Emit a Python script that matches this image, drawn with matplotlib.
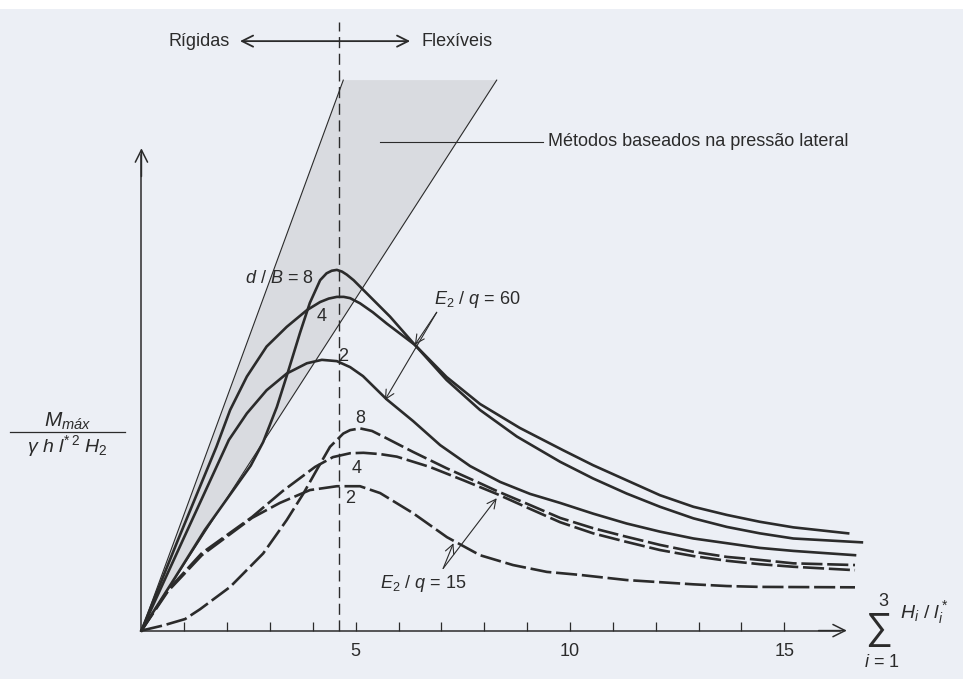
import matplotlib.pyplot as plt
from matplotlib.patches import Rectangle

plt.rcParams['font.family'] = ['Liberation Sans', 'DejaVu Sans']
plt.rcParams['mathtext.fontset'] = 'custom'
plt.rcParams['mathtext.rm'] = 'Liberation Sans'
plt.rcParams['mathtext.it'] = 'Liberation Sans:italic'
plt.rcParams['mathtext.bf'] = 'Liberation Sans:bold'

INK = '#2b2b2b'
BG = '#eceff5'

# E2/q = 60 (solid lines), d/B = 8, 4, 2
solid8_x = [0, 0.78, 1.48, 2.18, 2.55, 2.84, 3.16, 3.42, 3.70, 3.93, 4.17, 4.32, 4.44, 4.56,
            4.68, 4.79, 4.95, 5.10, 5.80, 6.38, 7.12, 7.90, 8.76, 9.77, 10.54, 11.32,
            12.10, 12.88, 13.66, 14.43, 15.21, 16.81]
solid8_y = [0, 1.23, 2.35, 3.33, 3.85, 4.40, 5.22, 6.04, 6.95, 7.65, 8.18, 8.34, 8.40, 8.42,
            8.38, 8.31, 8.18, 8.03, 7.33, 6.67, 5.85, 5.15, 4.53, 3.94, 3.55, 3.20,
            2.89, 2.62, 2.42, 2.27, 2.15, 2.06]

solid4_x = [0, 0.85, 1.75, 2.07, 2.46, 2.92, 3.39, 3.86, 4.17, 4.37, 4.56, 4.72, 4.87,
            5.10, 5.40, 5.72, 6.38, 7.12, 7.90, 8.83, 9.84, 10.54, 11.32, 12.10, 12.88,
            13.66, 14.43, 15.21, 16.49]
solid4_y = [0, 2.11, 4.29, 5.15, 5.93, 6.63, 7.09, 7.48, 7.67, 7.75, 7.79, 7.79, 7.76,
            7.64, 7.43, 7.17, 6.67, 5.92, 5.29, 4.73, 4.21, 3.86, 3.51, 3.16, 2.89,
            2.70, 2.54, 2.41, 2.27]

solid2_x = [0, 1.02, 2.04, 2.46, 2.92, 3.39, 3.86, 4.21, 4.56, 4.87, 5.17, 5.72, 6.34,
            6.97, 7.67, 8.37, 9.07, 9.77, 10.54, 11.32, 12.10, 12.88, 13.66, 14.43, 15.21,
            16.65]
solid2_y = [0, 2.23, 4.45, 5.07, 5.61, 6.00, 6.24, 6.32, 6.29, 6.15, 5.94, 5.40, 4.89,
            4.33, 3.84, 3.47, 3.19, 2.98, 2.73, 2.50, 2.31, 2.15, 2.04, 1.93, 1.86,
            1.76]

# E2/q = 15 (dashed lines), d/B = 8, 4, 2
dash8_x = [0, 0.51, 1.02, 1.37, 2.07, 2.84, 3.39, 3.78, 4.09, 4.40, 4.71, 4.87, 5.10, 5.38,
           5.64, 6.34, 7.12, 7.90, 8.29, 9.07, 9.77, 10.54, 11.32, 12.10, 12.88, 13.66,
           14.43, 15.21, 16.65]
dash8_y = [0, 0.12, 0.27, 0.50, 1.02, 1.80, 2.58, 3.20, 3.75, 4.29, 4.60, 4.68, 4.72, 4.66,
           4.53, 4.17, 3.79, 3.44, 3.26, 2.93, 2.63, 2.39, 2.19, 2.00, 1.84, 1.72,
           1.65, 1.57, 1.53]

dash4_x = [0, 0.62, 1.41, 2.58, 3.30, 4.05, 4.47, 4.87, 5.18, 5.57, 5.96, 6.73, 7.51,
           8.29, 9.07, 9.77, 10.54, 11.32, 12.10, 12.88, 13.66, 14.43, 15.21, 16.65]
dash4_y = [0, 0.95, 1.81, 2.65, 3.26, 3.82, 4.05, 4.14, 4.15, 4.12, 4.06, 3.82, 3.51,
           3.19, 2.84, 2.53, 2.27, 2.07, 1.88, 1.74, 1.63, 1.55, 1.49, 1.41]

dash2_x = [0, 0.62, 1.41, 2.58, 3.23, 3.93, 4.56, 5.10, 5.57, 6.34, 7.13, 7.90, 8.67,
           9.46, 10.23, 11.32, 12.10, 12.88, 13.66, 14.43, 16.65]
dash2_y = [0, 0.92, 1.76, 2.63, 2.98, 3.28, 3.37, 3.37, 3.21, 2.74, 2.18, 1.76, 1.53,
           1.37, 1.30, 1.18, 1.13, 1.08, 1.04, 1.02, 1.01]

# lateral-pressure methods wedge (two thin lines from the origin)
wedge_top = 12.85
wedge_left_x = 4.71
wedge_right_x = 8.29
boundary_x = 4.6        # rigid / flexible limit

xticks = list(range(1, 16))
xlabels = [str(t) if t % 5 == 0 else '' for t in xticks]

fig = plt.figure(figsize=(9.63, 6.79), dpi=100, facecolor=BG)
fig.patches.append(Rectangle((0, 0.987), 1, 0.013, transform=fig.transFigure,
                             facecolor='white', edgecolor='none'))
ax = fig.add_axes([0, 0, 1, 1])
ax.set_facecolor('none')
ax.set_xlim(-3.30, 19.17)
ax.set_ylim(-1.13, 14.72)

# wedge
ax.fill([0, wedge_left_x, wedge_right_x], [0, wedge_top, wedge_top],
        color='#d9dbe0', lw=0, zorder=1)
ax.plot([0, wedge_left_x], [0, wedge_top], color=INK, lw=0.8, zorder=2)
ax.plot([0, wedge_right_x], [0, wedge_top], color=INK, lw=0.8, zorder=2)

# rigid/flexible boundary
ax.plot([boundary_x, boundary_x], [0, 14.2], color=INK, lw=1.0,
        dashes=(8, 4), zorder=2)

# curves
for xs, ys in [(solid8_x, solid8_y), (solid4_x, solid4_y), (solid2_x, solid2_y)]:
    ax.plot(xs, ys, color=INK, lw=1.9, solid_joinstyle='round', zorder=3)
for xs, ys in [(dash8_x, dash8_y), (dash4_x, dash4_y), (dash2_x, dash2_y)]:
    ax.plot(xs, ys, color=INK, lw=1.9, dashes=(8, 1.8), zorder=3)

# axes
for s in ['top', 'right']:
    ax.spines[s].set_visible(False)
ax.spines['bottom'].set_position(('data', 0))
ax.spines['left'].set_position(('data', 0))
ax.spines['bottom'].set_bounds(0, 16.3)
ax.spines['left'].set_bounds(0, 11.1)
for s in ['bottom', 'left']:
    ax.spines[s].set_linewidth(1.1)
    ax.spines[s].set_color(INK)
ax.set_yticks([])
ax.set_xticks(xticks)
ax.set_xticklabels(xlabels, fontsize=13, color=INK)
ax.tick_params(axis='x', direction='in', length=6.5, width=0.9, color=INK, pad=9)
arrow_kw = dict(arrowstyle='->', lw=1.1, color=INK, mutation_scale=22,
                shrinkA=0, shrinkB=0)
ax.annotate('', xy=(16.46, 0), xytext=(15.8, 0), arrowprops=arrow_kw)
ax.annotate('', xy=(0, 11.26), xytext=(0, 10.6), arrowprops=arrow_kw)

# y label (fraction)
ax.text(-1.72, 4.88, r'$M_{máx}$', fontsize=15, ha='center', va='center', color=INK)
ax.plot([-3.07, -0.39], [4.64, 4.64], color=INK, lw=0.9, clip_on=False)
ax.text(-1.72, 4.30, r'$\gamma\ h\ l^{*\,2}\ H_2$', fontsize=14, ha='center',
        va='center', color=INK)

# x label (sum)
ax.text(17.19, 0.14, '\u2211', fontsize=27, ha='center', va='center_baseline',
        color=INK, family=['Liberation Sans', 'DejaVu Sans'])
ax.text(17.30, 0.68, '3', fontsize=13, ha='center', va='center', color=INK)
ax.text(17.28, -0.74, r'$i$ = 1', fontsize=13, ha='center', va='center', color=INK)
ax.text(17.70, 0.42, r'$H_i$ / $l^*_i$', fontsize=14, ha='left', va='center', color=INK)

# top: rigid <-> flexible
ax.annotate('', xy=(2.30, 13.76), xytext=(6.27, 13.76),
            arrowprops=dict(arrowstyle='<->', lw=1.3, color=INK, mutation_scale=20,
                            shrinkA=0, shrinkB=0))
ax.text(2.07, 13.76, 'Rígidas', fontsize=13, ha='right', va='center', color=INK)
ax.text(6.54, 13.76, 'Flexíveis', fontsize=13, ha='left', va='center', color=INK)

# lateral pressure label
ax.plot([5.57, 9.37], [11.41, 11.41], color=INK, lw=0.8)
ax.text(9.49, 11.41, 'Métodos baseados na pressão lateral', fontsize=13,
        ha='left', va='center', color=INK)

# curve labels
ax.text(4.01, 8.22, r'$d$ / $B$ = 8', fontsize=13, ha='right', va='center', color=INK)
ax.text(4.21, 7.33, '4', fontsize=13, ha='center', va='center', color=INK)
ax.text(4.71, 6.39, '2', fontsize=13, ha='center', va='center', color=INK)
ax.text(5.10, 4.95, '8', fontsize=13, ha='center', va='center', color=INK)
ax.text(5.02, 3.79, '4', fontsize=13, ha='center', va='center', color=INK)
ax.text(4.87, 3.09, '2', fontsize=13, ha='center', va='center', color=INK)

# E2/q labels with pointers
ax.text(6.83, 7.72, r'$E_2$ / $q$ = 60', fontsize=13, ha='left', va='center', color=INK)
head_kw = dict(arrowstyle='->', lw=0.8, color=INK, mutation_scale=16,
               shrinkA=0, shrinkB=0)
ax.annotate('', xy=(5.68, 5.38), xytext=(6.89, 7.43), arrowprops=head_kw)
ax.annotate('', xy=(6.38, 6.67), xytext=(6.89, 7.43), arrowprops=head_kw)

ax.text(5.56, 1.11, r'$E_2$ / $q$ = 15', fontsize=13, ha='left', va='center', color=INK)
ax.annotate('', xy=(8.29, 3.09), xytext=(7.04, 1.45), arrowprops=head_kw)
ax.annotate('', xy=(7.28, 2.04), xytext=(7.04, 1.45), arrowprops=head_kw)

fig.savefig('out.png', dpi=100, facecolor=BG)
